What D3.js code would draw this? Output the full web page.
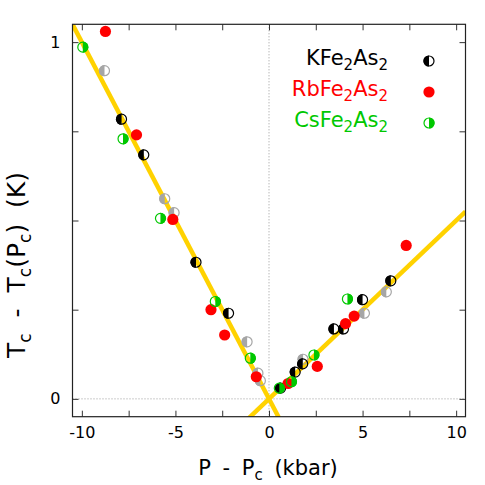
<!DOCTYPE html>
<html><head><meta charset="utf-8">
<script src="https://cdn.jsdelivr.net/npm/d3@7"></script>
<style>
html,body{margin:0;padding:0;background:#fff;}
text{font-family:"DejaVu Sans",sans-serif;}
</style></head>
<body><svg id="c" width="485" height="485"></svg>
<script>
// ---- data (P - Pc in kbar, Tc - Tc(Pc) in K) ----
const kP    = [-7.88,-6.69,-3.90,-2.16,0.62,1.40,1.80,3.47,3.98,5.00,6.51];
const kT    = [0.784,0.684,0.383,0.240,0.030,0.075,0.098,0.196,0.196,0.278,0.331];
const kgP   = [-8.79,-5.57,-5.07,-1.17,-0.59,-0.46,1.82,5.10,6.27];
const kgT   = [0.920,0.561,0.522,0.160,0.072,0.051,0.111,0.240,0.300];
const rbP   = [-8.74,-7.08,-5.14,-3.10,-2.37,-0.68,1.02,2.58,4.09,4.55,7.33];
const rbT   = [1.030,0.740,0.503,0.250,0.179,0.062,0.043,0.091,0.211,0.232,0.430];
const csP   = [-9.95,-7.80,-5.80,-2.87,-1.00,0.55,1.20,2.40,4.19];
const csT   = [0.986,0.729,0.506,0.273,0.114,0.030,0.048,0.123,0.280];
const fitSlopes = [-0.10, 0.05];       // two linear fits through Pc
const fitStart  = [-10.5, -1.2];
const fitEnd    = [0.8, 10.5];
const xTicks = [-10,-7.5,-5,-2.5,0,2.5,5,7.5,10];
const xLabels = [-10,-5,0,5,10];
const yTicks = [0,0.25,0.5,0.75,1];
const yLabels = [0,1];
const legendNames = [["K","Fe","2","As","2"],["Rb","Fe","2","As","2"],["Cs","Fe","2","As","2"]];

const svg = d3.select("#c");
const L=72.5,R=465.5,T=24.3,B=416.7;
const x = d3.scaleLinear().domain([-10.5,10.5]).range([L,R]);
const y = d3.scaleLinear().domain([-0.05,1.05]).range([B,T]);

svg.append("clipPath").attr("id","clip").append("rect")
  .attr("x",L).attr("y",T).attr("width",R-L).attr("height",B-T);

// dotted zero lines
svg.append("line").attr("x1",L).attr("x2",R).attr("y1",y(0)).attr("y2",y(0))
  .attr("stroke","#999").attr("stroke-width",1).attr("stroke-dasharray","1,2");
svg.append("line").attr("x1",x(0)).attr("x2",x(0)).attr("y1",T).attr("y2",B)
  .attr("stroke","#999").attr("stroke-width",1).attr("stroke-dasharray","1,2");

// fit lines
const line = d3.line().x(d=>x(d[0])).y(d=>y(d[1]));
const gFit = svg.append("g").attr("clip-path","url(#clip)");
fitSlopes.forEach((s,i)=>{
  gFit.append("path").datum([[fitStart[i],s*fitStart[i]],[fitEnd[i],s*fitEnd[i]]])
    .attr("d",line).attr("stroke","#ffd200").attr("stroke-width",4.5).attr("fill","none");
});

// axes with mirrored inward ticks
const axB = d3.axisBottom(x).tickValues(xTicks).tickSize(-6).tickPadding(10)
  .tickFormat(d=>xLabels.includes(d)?String(d):"");
const axT = d3.axisTop(x).tickValues(xTicks).tickSize(-6).tickFormat("");
const axL = d3.axisLeft(y).tickValues(yTicks).tickSize(-6).tickPadding(12)
  .tickFormat(d=>yLabels.includes(d)?String(d):"");
const axR = d3.axisRight(y).tickValues(yTicks).tickSize(-6).tickFormat("");
function styleAx(g){
  g.select(".domain").remove();
  g.selectAll(".tick line").attr("stroke","#333");
  g.selectAll("text").attr("font-family","DejaVu Sans").attr("font-size",16).attr("fill","#000");
}
svg.append("g").attr("transform",`translate(0,${B})`).call(axB).call(styleAx);
svg.append("g").attr("transform",`translate(0,${T})`).call(axT).call(styleAx);
svg.append("g").attr("transform",`translate(${L},0)`).call(axL).call(styleAx);
svg.append("g").attr("transform",`translate(${R},0)`).call(axR).call(styleAx);
svg.append("rect").attr("x",L).attr("y",T).attr("width",R-L).attr("height",B-T)
  .attr("fill","none").attr("stroke","#222").attr("stroke-width",1.2);

// markers
const r = 5.6;
const halfL = `M0,${-r}A${r},${r} 0 0 0 0,${r}Z`;
const halfR = `M0,${-r}A${r},${r} 0 0 1 0,${r}Z`;
function marker(g, col, type){
  if(type==="full"){
    g.append("circle").attr("r",r).attr("fill",col);
  } else {
    g.append("path").attr("d", type==="left"?halfL:halfR).attr("fill",col);
    g.append("circle").attr("r",r-0.6).attr("fill","none").attr("stroke",col).attr("stroke-width",1.2);
  }
}
function series(P,Tv,col,type){
  const g = svg.append("g");
  P.forEach((p,i)=>{
    const m = g.append("g").attr("transform",`translate(${x(p)},${y(Tv[i])})`);
    marker(m,col,type);
  });
}
series(kgP,kgT,"#a6a6a6","left");
series(kP,kT,"#000","left");
series(rbP,rbT,"#ff0000","full");
series(csP,csT,"#00c800","right");

// subscript-aware text helper
function richText(t, parts, big, small, shift){
  let prevSub = false;
  parts.forEach(([s,sub])=>{
    const ts = t.append("tspan").text(s).attr("font-size",sub?small:big);
    if(sub && !prevSub) ts.attr("dy",shift);
    if(!sub && prevSub) ts.attr("dy",-shift);
    prevSub = sub;
  });
}

// legend
const legCols = ["#000","#ff0000","#00c800"];
const legTypes = ["left","full","right"];
const legY = [65,96,127];
legendNames.forEach((parts,i)=>{
  const t = svg.append("text").attr("x",388).attr("y",legY[i]).attr("text-anchor","end")
    .attr("fill",legCols[i]);
  richText(t, parts.map(p=>[p,p==="2"]), 21, 15, 5);
  const m = svg.append("g").attr("transform",`translate(429,${legY[i]-4})`);
  marker(m,legCols[i],legTypes[i]);
});

// axis titles
const xt = svg.append("text").attr("x",268).attr("y",475).attr("text-anchor","middle")
  .attr("word-spacing",5);
richText(xt, [["P - P",false],["c",true],[" (kbar)",false]], 21, 15, 5);

const yt = svg.append("text").attr("transform","translate(25,265) rotate(-90)")
  .attr("text-anchor","middle").attr("word-spacing",8);
richText(yt, [["T",false],["c",true],[" - T",false],["c",true],["(P",false],["c",true],[") (K)",false]], 25, 17, 6);
</script></body></html>
